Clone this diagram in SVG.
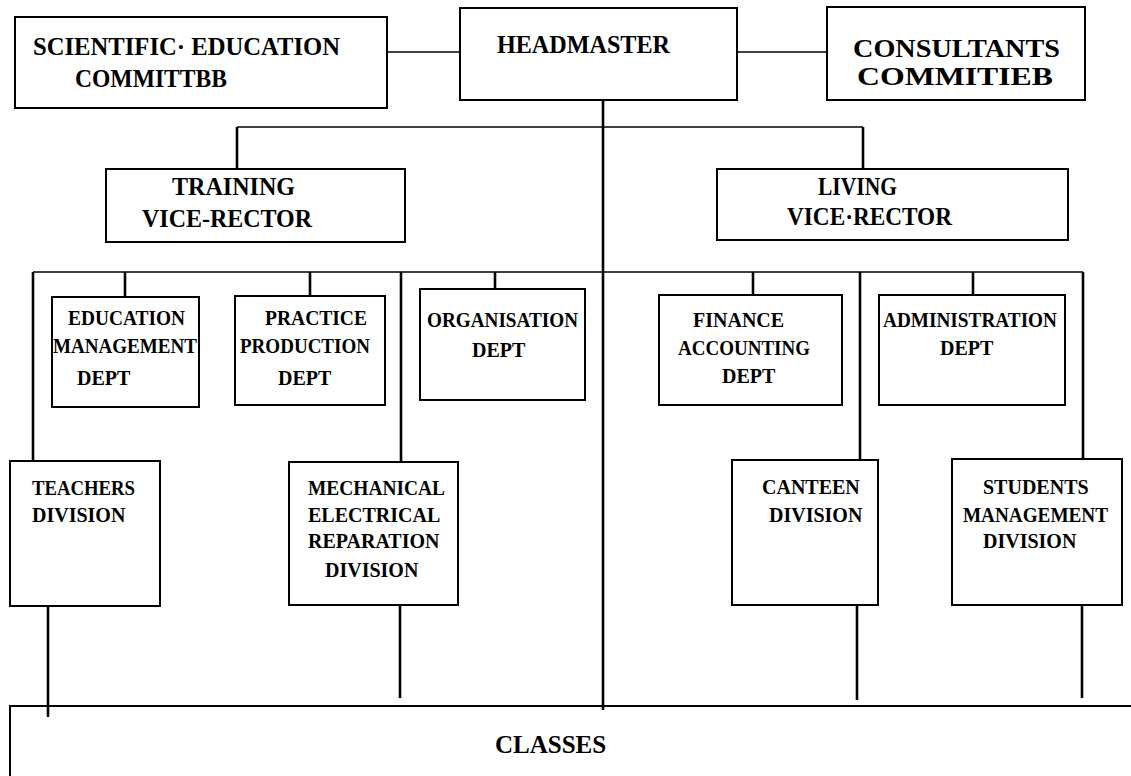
<svg xmlns="http://www.w3.org/2000/svg" width="1131" height="776" viewBox="0 0 1131 776">
<style>
.box{fill:none;stroke:#000;stroke-width:2}
.h{stroke:#000;stroke-width:1.6;fill:none}
.v{stroke:#000;stroke-width:2.6;fill:none}
text{font-family:"Liberation Serif","Times New Roman",serif;fill:#000;font-weight:bold}
.big{font-size:26px}
.mid{font-size:25px}
.sm{font-size:20px}
</style>
<rect width="1131" height="776" fill="#fff"/>
<g id="connectors">
<line class="h" x1="387" y1="52" x2="460" y2="52"/>
<line class="h" x1="737" y1="52" x2="827" y2="52"/>
<line class="v" x1="603" y1="100" x2="603" y2="710"/>
<line class="h" x1="237" y1="127" x2="863" y2="127"/>
<line class="v" x1="237" y1="127" x2="237" y2="169"/>
<line class="v" x1="863" y1="127" x2="863" y2="169"/>
<line class="h" x1="33" y1="272" x2="1083" y2="272"/>
<line class="v" x1="33" y1="272" x2="33" y2="461"/>
<line class="v" x1="125" y1="272" x2="125" y2="297"/>
<line class="v" x1="310" y1="272" x2="310" y2="296"/>
<line class="v" x1="401" y1="272" x2="401" y2="462"/>
<line class="v" x1="495" y1="272" x2="495" y2="289"/>
<line class="v" x1="753" y1="272" x2="753" y2="295"/>
<line class="v" x1="860" y1="272" x2="860" y2="460"/>
<line class="v" x1="973" y1="272" x2="973" y2="295"/>
<line class="v" x1="1083" y1="272" x2="1083" y2="459"/>
<line class="v" x1="48" y1="606" x2="48" y2="717"/>
<line class="v" x1="400" y1="605" x2="400" y2="698"/>
<line class="v" x1="857" y1="605" x2="857" y2="700"/>
<line class="v" x1="1082" y1="605" x2="1082" y2="698"/>
</g>
<g id="scientific">
<rect class="box" x="15" y="17" width="372" height="91"/>
<text class="big" x="33" y="55" textLength="307" lengthAdjust="spacingAndGlyphs">SCIENTIFIC· EDUCATION</text>
<text class="big" x="75" y="87" textLength="152" lengthAdjust="spacingAndGlyphs">COMMITTBB</text>
</g>
<g id="headmaster">
<rect class="box" x="460" y="8" width="277" height="92"/>
<text class="big" x="497" y="53" textLength="173" lengthAdjust="spacingAndGlyphs">HEADMASTER</text>
</g>
<g id="consultants">
<rect class="box" x="827" y="7" width="258" height="93"/>
<text class="big" x="853" y="57" textLength="207" lengthAdjust="spacingAndGlyphs">CONSULTANTS</text>
<text class="big" x="857" y="85" textLength="196" lengthAdjust="spacingAndGlyphs">COMMITIEB</text>
</g>
<g id="training">
<rect class="box" x="106" y="169" width="299" height="73"/>
<text class="mid" x="172" y="195" textLength="123" lengthAdjust="spacingAndGlyphs">TRAINING</text>
<text class="mid" x="142" y="227" textLength="170" lengthAdjust="spacingAndGlyphs">VICE-RECTOR</text>
</g>
<g id="living">
<rect class="box" x="717" y="169" width="351" height="71"/>
<text class="mid" x="818" y="195" textLength="79" lengthAdjust="spacingAndGlyphs">LIVING</text>
<text class="mid" x="787" y="225" textLength="165" lengthAdjust="spacingAndGlyphs">VICE·RECTOR</text>
</g>
<g id="education">
<rect class="box" x="52" y="297" width="147" height="110"/>
<text class="sm" x="68" y="325" textLength="117" lengthAdjust="spacingAndGlyphs">EDUCATION</text>
<text class="sm" x="53" y="353" textLength="144" lengthAdjust="spacingAndGlyphs">MANAGEMENT</text>
<text class="sm" x="77" y="385">DEPT</text>
</g>
<g id="practice">
<rect class="box" x="235" y="296" width="150" height="109"/>
<text class="sm" x="265" y="325" textLength="102" lengthAdjust="spacingAndGlyphs">PRACTICE</text>
<text class="sm" x="240" y="353" textLength="130" lengthAdjust="spacingAndGlyphs">PRODUCTION</text>
<text class="sm" x="278" y="385">DEPT</text>
</g>
<g id="organisation">
<rect class="box" x="420" y="289" width="165" height="111"/>
<text class="sm" x="427" y="327" textLength="151" lengthAdjust="spacingAndGlyphs">ORGANISATION</text>
<text class="sm" x="472" y="357">DEPT</text>
</g>
<g id="finance">
<rect class="box" x="659" y="295" width="183" height="110"/>
<text class="sm" x="693" y="327">FINANCE</text>
<text class="sm" x="678" y="355" textLength="132" lengthAdjust="spacingAndGlyphs">ACCOUNTING</text>
<text class="sm" x="722" y="383">DEPT</text>
</g>
<g id="administration">
<rect class="box" x="879" y="295" width="186" height="110"/>
<text class="sm" x="883" y="327" textLength="174" lengthAdjust="spacingAndGlyphs">ADMINISTRATION</text>
<text class="sm" x="940" y="355">DEPT</text>
</g>
<g id="teachers">
<rect class="box" x="10" y="461" width="150" height="145"/>
<text class="sm" x="32" y="495" textLength="103" lengthAdjust="spacingAndGlyphs">TEACHERS</text>
<text class="sm" x="32" y="522">DIVISION</text>
</g>
<g id="mechanical">
<rect class="box" x="289" y="462" width="169" height="143"/>
<text class="sm" x="308" y="495" textLength="137" lengthAdjust="spacingAndGlyphs">MECHANICAL</text>
<text class="sm" x="308" y="522">ELECTRICAL</text>
<text class="sm" x="308" y="548">REPARATION</text>
<text class="sm" x="325" y="577">DIVISION</text>
</g>
<g id="canteen">
<rect class="box" x="732" y="460" width="146" height="145"/>
<text class="sm" x="762" y="494">CANTEEN</text>
<text class="sm" x="769" y="522">DIVISION</text>
</g>
<g id="students">
<rect class="box" x="952" y="459" width="170" height="146"/>
<text class="sm" x="983" y="494">STUDENTS</text>
<text class="sm" x="963" y="522" textLength="145" lengthAdjust="spacingAndGlyphs">MANAGEMENT</text>
<text class="sm" x="983" y="548">DIVISION</text>
</g>
<g id="classes">
<polyline class="box" points="10,776 10,706 1131,706"/>
<text class="mid" x="495" y="753">CLASSES</text>
</g>
</svg>
